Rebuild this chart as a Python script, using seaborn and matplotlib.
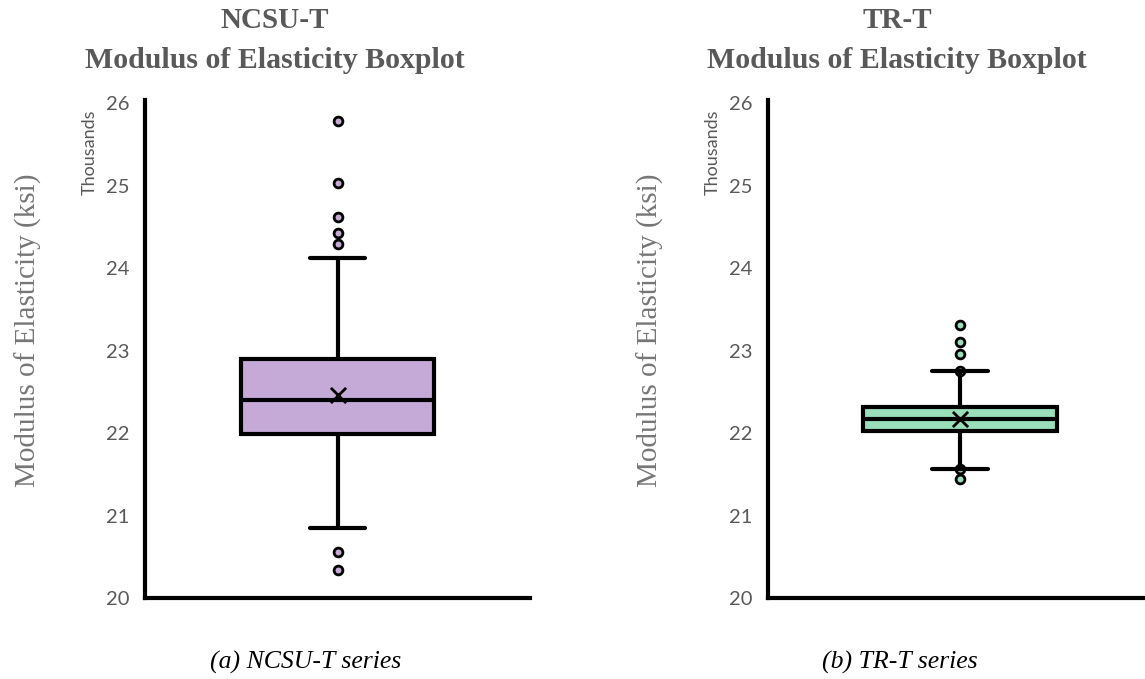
import matplotlib
matplotlib.use("Agg")
import matplotlib.pyplot as plt
import seaborn as sns

# Summary statistics (thousands of ksi)
series = ["NCSU-T", "TR-T"]
whisker_low = [20.85, 21.57]
quartile_1 = [21.99, 22.02]
medians = [22.40, 22.17]
quartile_3 = [22.90, 22.32]
whisker_high = [24.12, 22.75]
means = [22.46, 22.17]
outliers = [
    [25.78, 25.03, 24.62, 24.43, 24.29, 20.56, 20.34],
    [23.31, 23.11, 22.96, 22.75, 21.56, 21.44],
]
fill_colors = ["#C5AAD8", "#9ADFBA"]
captions = ["(a) NCSU-T series", "(b) TR-T series"]
y_ticks = [20, 21, 22, 23, 24, 25, 26]

sns.set_style("white")
plt.rcParams["font.family"] = ["Lato", "DejaVu Sans"]

W, H = 1145, 679
fig = plt.figure(figsize=(W / 100, H / 100), dpi=100)


def fx(px):
    return px / W


def fy(py):
    return 1 - py / H


# axes placement: (left px, right px), box centre and width in axes units
panels = [
    dict(x0=145, x1=530, pos=0.5, width=0.5, cap=0.145, title_x=275, cap_x=306, ylab_x=28, thou_x=90),
    dict(x0=768, x1=1145, pos=0.509, width=0.515, cap=0.149, title_x=897, cap_x=900, ylab_x=650, thou_x=713),
]
top_px, bottom_px = 100, 598
gray_dark = "#595959"
gray_label = "#767676"

for i, p in enumerate(panels):
    ax = fig.add_axes([fx(p["x0"]), fy(bottom_px), fx(p["x1"] - p["x0"]),
                       (bottom_px - top_px) / H])
    stats = [dict(med=medians[i], q1=quartile_1[i], q3=quartile_3[i],
                  whislo=whisker_low[i], whishi=whisker_high[i],
                  mean=means[i], fliers=[], label=series[i])]

    # outlier points sit underneath the whiskers
    sns.scatterplot(x=[p["pos"]] * len(outliers[i]), y=outliers[i], ax=ax,
                    s=40, color=fill_colors[i], edgecolor="black",
                    linewidth=2.0, zorder=1, legend=False)

    ax.bxp(stats, positions=[p["pos"]], widths=[p["width"]],
           capwidths=[p["cap"]], showfliers=False, showmeans=False,
           patch_artist=True, manage_ticks=False,
           boxprops=dict(facecolor=fill_colors[i], edgecolor="black", linewidth=3, zorder=2),
           medianprops=dict(color="black", linewidth=3, zorder=3),
           whiskerprops=dict(color="black", linewidth=3, zorder=2),
           capprops=dict(color="black", linewidth=3, zorder=2))

    sns.scatterplot(x=[p["pos"]], y=[means[i]], ax=ax, marker="x", s=120,
                    color="black", linewidth=2.0, zorder=4, legend=False)

    ax.set_xlim(0, 1)
    ax.set_ylim(20, 26.04)
    ax.set_yticks(y_ticks)
    ax.set_yticklabels([str(t) for t in y_ticks])
    ax.set_xticks([])
    ax.tick_params(axis="y", length=0, pad=11, labelsize=14.5, labelcolor=gray_dark)
    for side in ("top", "right"):
        ax.spines[side].set_visible(False)
    for side in ("left", "bottom"):
        ax.spines[side].set_color("black")
        ax.spines[side].set_linewidth(3)
    ax.set_ylabel("")
    ax.set_xlabel("")

    # titles
    fig.text(fx(p["title_x"]), fy(20), series[i], ha="center", va="center",
             family="Liberation Serif", fontweight="bold", fontsize=21,
             color=gray_dark)
    fig.text(fx(p["title_x"]), fy(60), "Modulus of Elasticity Boxplot",
             ha="center", va="center", family="Liberation Serif",
             fontweight="bold", fontsize=21.5, color=gray_dark)

    # axis label and units note
    fig.text(fx(p["ylab_x"]), fy(330), "Modulus of Elasticity (ksi)",
             rotation=90, ha="center", va="center", family="Liberation Serif",
             fontsize=21, color=gray_label)
    fig.text(fx(p["thou_x"]), fy(152), "Thousands", rotation=90,
             ha="center", va="center", fontsize=13, color=gray_dark)

    # caption
    fig.text(fx(p["cap_x"]), fy(662), captions[i], ha="center", va="center",
             family="Liberation Serif", style="italic", fontsize=18.5,
             color="black")

fig.savefig("out.png", dpi=100)
